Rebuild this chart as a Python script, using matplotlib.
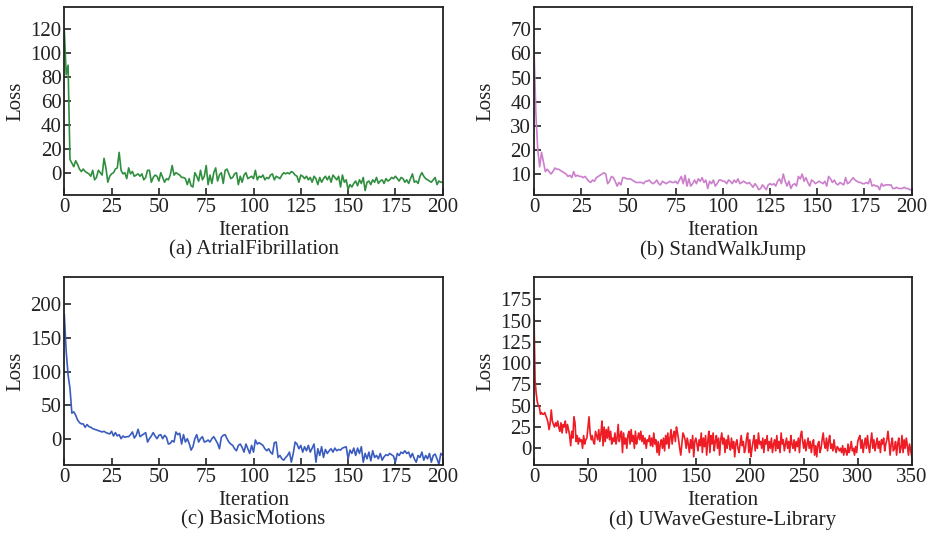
import numpy as np
import matplotlib
matplotlib.use("Agg")
import matplotlib.pyplot as plt

plt.rcParams['font.family'] = ['Liberation Serif', 'DejaVu Serif']
plt.rcParams['mathtext.fontset'] = 'stix'

# ---------------- data ----------------
loss_af = [120, 82, 90, 11, 8, 5, 10, 7, 3, 1, 3, 1, 0, -1, -3, 2, -6, -4, 2, 0,
           -2, 12, 4, -8, -3, -1, 0, 3, 4, 17, 2, -1, 0, -5, 4, -1, 1, -3, -2, -1,
           -3, -1, -6, -4, 2, 2, -8, -4, -2, -3, -7, 0, -4, -8, -5, -6, -2, 6, -2, 0,
           -1, -2, -4, -4, -5, -10, -5, -11, -12, 0, -3, -7, 2, -6, -3, 6, -10, -2, -9, 0,
           4, -7, -2, 0, -9, 2, 3, -1, -5, -4, -1, 0, -10, -3, -8, -2, 0, -5, -4, -3,
           -5, 2, -6, -3, -4, -2, -6, -4, -5, -2, -1, -6, -3, -4, -5, -2, 0, -1, 0, -1,
           1, 0, -2, -3, -8, -2, -3, -5, -3, -6, -4, -8, -3, -5, -10, -4, -8, -5, -3, -6,
           -3, -8, -2, -4, -6, -3, -12, -2, -8, -6, -14, -10, -12, -9, -7, -11, -6, -9, -4, -15,
           -8, -7, -10, -6, -8, -4, -9, -7, -6, -9, -5, -7, -6, -4, -5, -3, -5, -7, -4, -5,
           -8, -6, -9, -5, -1, -8, -7, -9, -3, 0, -3, -5, -6, -7, -8, -6, -4, -10, -7, -8,
           -8]

loss_swj = [62, 35, 20, 13, 19, 15, 11, 12, 11, 10, 11, 12.5, 12, 12, 11.5, 11, 10.5, 10, 9, 9.5,
            8.5, 11, 9, 9.5, 9, 9, 8.5, 9, 8, 7, 6.5, 7.5, 7, 8.5, 9, 9.5, 10, 10.5, 10, 6,
            7, 9, 8.5, 7, 5, 6.5, 5.5, 8.5, 8.5, 8, 8, 8, 7.5, 7, 6.5, 6.5, 6.5, 6.5, 6, 7,
            7, 7.5, 6.5, 6, 6.5, 7.5, 6, 5.5, 7, 6.5, 6, 6.5, 7, 6.5, 6.5, 7, 6, 7.5, 9, 6,
            9.5, 5, 8, 5, 6, 7.5, 6, 8, 7, 8.5, 6.5, 7.5, 4, 7, 6, 7.5, 5, 6, 7.5, 7.5,
            7, 7, 6, 7.5, 7, 6, 7.5, 6.5, 8, 6, 6.5, 7, 6.5, 6, 6.5, 5.5, 4.5, 6, 5, 3.5,
            4, 5.5, 4.5, 3.5, 5.5, 6, 5.5, 6, 5, 7, 8, 6, 10, 7, 5, 7, 4, 5.5, 6, 5,
            9, 8, 10, 7, 8.5, 6.5, 5, 7.5, 7, 6, 6.5, 7, 6.5, 6, 7, 5, 9, 8, 6.5, 7.5,
            6, 5.5, 6.5, 6, 5.5, 8.5, 6, 6.5, 7.5, 8.5, 7.5, 7, 6.5, 6.5, 6, 6, 6.5, 6, 8, 5,
            5.5, 5, 5, 3.5, 6, 5, 5.5, 5.5, 5.5, 5.5, 4, 4, 4.5, 4, 4, 4, 4.5, 4, 4, 3.5,
            3.5]

loss_bm = [185, 130, 95, 75, 38, 40, 35, 28, 24, 22, 22, 17, 21, 18, 17, 15, 14, 13, 12, 11,
           10, 11, 9, 8, 7, 11, 4, 9, 4, 6, 0, 4, 2, 3, 3, 6, 10, 1, 5, 14,
           3, 5, 7, 9, -5, 0, 4, 9, 4, 0, 5, 6, 0, 5, 2, -8, -7, -3, -5, 10,
           6, 8, -8, 6, -5, 0, -7, -17, -12, 0, 6, -5, 0, 3, -5, -4, -2, -5, 0, 3,
           -2, -7, -15, 2, 5, 6, 0, -5, -8, -10, -15, -18, -10, -8, -13, -20, -8, -15, -22, -10,
           -20, -2, -8, -6, -8, -10, -15, -18, -15, -20, -23, -6, -5, -28, -25, -30, -32, -28, -25, -20,
           -35, -22, -5, -8, -15, -10, -20, -12, -18, -10, -20, -14, -8, -35, -15, -25, -12, -28, -16, -22,
           -18, -15, -20, -14, -18, -16, -17, -14, -13, -12, -30, -17, -22, -14, -25, -14, -22, -12, -35, -22,
           -30, -20, -33, -18, -28, -25, -30, -22, -32, -27, -24, -25, -22, -24, -26, -35, -22, -25, -20, -22,
           -18, -22, -20, -28, -22, -30, -35, -25, -28, -20, -32, -25, -30, -22, -35, -25, -23, -30, -38, -22,
           -25]

loss_uw = [155, 80, 65, 55, 50, 48, 40, 42, 40, 40, 42, 38, 35, 30, 22, 30, 45, 32, 28, 25,
           30, 26, 32, 24, 20, 30, 18, 28, 25, 32, 18, 28, 22, 15, 3, 20, 12, 37, 30, 8,
           15, 5, 12, 8, 10, 0, 15, 5, 10, 12, 25, 37, 18, 10, 15, 8, 5, 20, 15, 10,
           22, 8, 17, 32, 3, 25, 8, 22, 12, 25, 10, 20, 5, 12, 8, 18, 5, 12, 28, 8,
           15, 20, -5, 18, 5, 12, 0, 15, 20, 5, 22, 8, 15, 0, 20, 5, 12, 18, 10, 20,
           8, 15, 5, 12, 0, 10, 8, 15, 3, 12, 2, 18, 5, 10, -5, 8, -8, 5, 10, 0,
           12, -3, 15, 5, 18, 0, 12, 22, 5, 15, 20, 8, 25, 18, 10, 0, -8, 5, 18, 15,
           10, 0, 12, 5, -5, 10, 0, 15, -10, 8, 12, 5, -3, 10, 3, 18, -5, 12, 2, 15,
           -8, 8, 20, -5, 15, 5, 18, -3, 8, 15, 0, 12, -8, 10, 18, 5, 12, -5, 10, 0,
           15, 5, -2, 12, 0, 8, -10, 5, 10, 0, -5, 5, 15, 3, 8, -5, 0, 12, 18, -5,
           10, -10, 0, 8, 15, -3, 10, 0, 18, 5, 8, 0, 12, -5, 10, 5, 15, -3, 8, 0,
           12, -5, 5, 10, -3, 15, 0, 8, -5, 18, 5, 10, -3, 5, 12, 0, 8, -5, 15, 5,
           0, 10, -3, 8, 2, 12, -5, 15, 20, 8, 0, 10, -3, 5, 12, 0, 8, -5, 5, 10,
           -8, 3, -10, 5, 8, -5, 0, 10, 18, 5, 0, 12, -3, 8, 15, 0, 5, -3, 10, 0,
           -5, 2, 0, -3, 0, -5, 3, -8, 0, -3, -8, 5, -5, 0, 8, -3, 0, -8, 2, -5,
           8, 12, 15, 0, 10, -5, 5, 12, 0, 15, 3, -5, 8, 18, 0, 10, -3, 5, 12, 0,
           8, -5, 10, 5, 12, -3, 5, 10, 20, 8, -8, 5, 12, -3, 0, 8, -8, 5, 12, -5,
           0, 15, -5, 10, 0, 12, 3, -8, 5, -2, -10]

captions = ["(a) AtrialFibrillation", "(b) StandWalkJump",
            "(c) BasicMotions", "(d) UWaveGesture-Library"]
series = [loss_af, loss_swj, loss_bm, loss_uw]
colors = ["#2f8f3f", "#cc7fcc", "#3a5cbf", "#ee1c24"]
xmax = [200, 200, 200, 350]
xticks = [np.arange(0, 201, 25), np.arange(0, 201, 25),
          np.arange(0, 201, 25), np.arange(0, 351, 50)]
yticks = [np.arange(0, 121, 20), np.arange(10, 71, 10),
          np.arange(0, 201, 50), np.arange(0, 176, 25)]
ylims = [(-18.7, 139), (1.3, 79.4), (-39.2, 241.2), (-19.6, 201.5)]

# ---------------- figure ----------------
fig = plt.figure(figsize=(9.30, 5.39), dpi=100)
W, H = 930, 539
boxes = [(64.3, 6.7, 442.7, 195), (534.0, 6.7, 911.7, 195),
         (64.3, 276.7, 442.7, 465), (534.0, 276.7, 911.7, 465)]

for i in range(4):
    l, t, r, b = boxes[i]
    ax = fig.add_axes([l / W, 1 - b / H, (r - l) / W, (b - t) / H])
    y = series[i]
    x = np.arange(len(y))
    ax.plot(x, y, color=colors[i], lw=1.2)
    ax.set_xlim(0, xmax[i])
    ax.set_ylim(*ylims[i])
    ax.set_xticks(xticks[i])
    ax.set_yticks(yticks[i])
    ax.tick_params(direction='in', length=5, width=1.2, labelsize=15,
                   pad=2, colors='#222222', top=False, right=False)
    for sp in ax.spines.values():
        sp.set_linewidth(1.3)
        sp.set_color('#222222')
    ax.set_xlabel("Iteration", fontsize=15, va='center', color='#222222')
    ax.xaxis.set_label_coords(0.5, -0.1885)
    ax.set_ylabel("Loss", fontsize=15, va='center', color='#222222')
    ax.yaxis.set_label_coords(-0.128, 0.5)
    ax.text(0.5, -0.292, captions[i], transform=ax.transAxes, ha='center',
            va='center', fontsize=15, color='#222222')

fig.savefig("out.png", dpi=100)
